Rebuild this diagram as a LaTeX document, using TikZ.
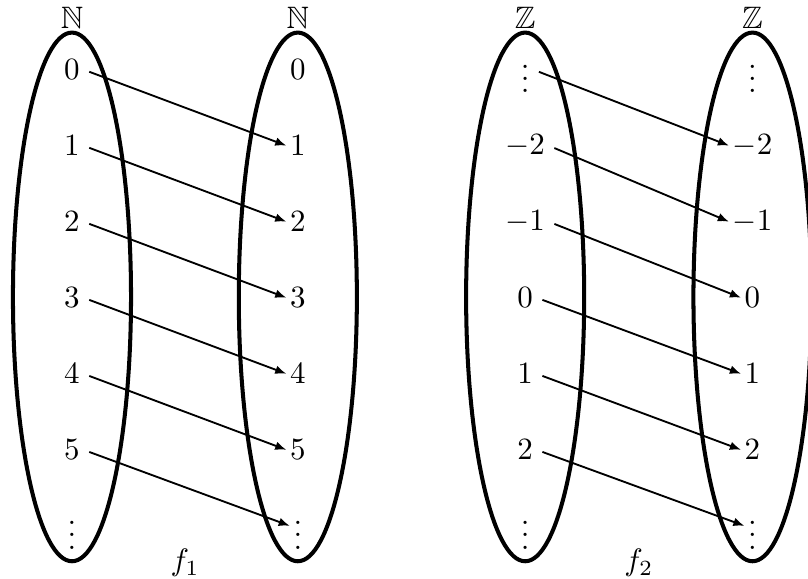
\documentclass[tikz,border=0pt]{standalone}
\usepackage{amsmath}
\usepackage{amssymb}
\usepackage{tikz}
\usetikzlibrary{shapes.geometric, arrows.meta, positioning}

\begin{document}
\begin{tikzpicture}[>={Latex[length=3.6pt, width=2.8pt]},
  node distance=0.863cm,
  setbox/.style={draw, ellipse, line width=1.3pt, inner sep=0pt,
                 minimum width=1.34cm, minimum height=6.0cm},
  elem/.style={inner sep=1pt, on grid},
  setlbl/.style={inner sep=0pt},
  map/.style={->, line width=0.6pt, shorten <=2pt}
]
  \useasboundingbox (0,0) rectangle (9.17,6.56);

  %% the four sets
  \node[setbox] (SA) at (0.817,3.19) {};
  \node[setbox] (SB) at (3.38,3.19)  {};
  \node[setbox] (SC) at (5.96,3.19)  {};
  \node[setbox] (SD) at (8.54,3.19)  {};

  \node[setlbl, above=0.6pt of SA.north] (NA) {$\mathbb{N}$};
  \node[setlbl, above=0.6pt of SB.north] (NB) {$\mathbb{N}$};
  \node[setlbl, above=0.6pt of SC.north] (ZC) {$\mathbb{Z}$};
  \node[setlbl, above=0.6pt of SD.north] (ZD) {$\mathbb{Z}$};

  %% f_1 : N -> N
  \node[elem] (A0) at (0.817,5.77) {$0$};
  \node[elem, below=of A0] (A1) {$1$};
  \node[elem, below=of A1] (A2) {$2$};
  \node[elem, below=of A2] (A3) {$3$};
  \node[elem, below=of A3] (A4) {$4$};
  \node[elem, below=of A4] (A5) {$5$};
  \node[elem, below=of A5] (A6) {$\vdots$};

  \node[elem] (B0) at (3.38,5.77) {$0$};
  \node[elem, below=of B0] (B1) {$1$};
  \node[elem, below=of B1] (B2) {$2$};
  \node[elem, below=of B2] (B3) {$3$};
  \node[elem, below=of B3] (B4) {$4$};
  \node[elem, below=of B4] (B5) {$5$};
  \node[elem, below=of B5] (B6) {$\vdots$};

  \draw[map] (A0.east) -- (B1.west);
  \draw[map] (A1.east) -- (B2.west);
  \draw[map] (A2.east) -- (B3.west);
  \draw[map] (A3.east) -- (B4.west);
  \draw[map] (A4.east) -- (B5.west);
  \draw[map] (A5.east) -- (B6.west);

  \node (F1) at (2.10,0.17) {$f_1$};

  %% f_2 : Z -> Z
  \node[elem] (C0) at (5.96,5.77) {$\vdots$};
  \node[elem, below=of C0] (C1) {$-2$};
  \node[elem, below=of C1] (C2) {$-1$};
  \node[elem, below=of C2] (C3) {$0$};
  \node[elem, below=of C3] (C4) {$1$};
  \node[elem, below=of C4] (C5) {$2$};
  \node[elem, below=of C5] (C6) {$\vdots$};

  \node[elem] (D0) at (8.54,5.77) {$\vdots$};
  \node[elem, below=of D0] (D1) {$-2$};
  \node[elem, below=of D1] (D2) {$-1$};
  \node[elem, below=of D2] (D3) {$0$};
  \node[elem, below=of D3] (D4) {$1$};
  \node[elem, below=of D4] (D5) {$2$};
  \node[elem, below=of D5] (D6) {$\vdots$};

  \draw[map] (C0.east) -- (D1.west);
  \draw[map] (C1.east) -- (D2.west);
  \draw[map] (C2.east) -- (D3.west);
  \draw[map] (C3.east) -- (D4.west);
  \draw[map] (C4.east) -- (D5.west);
  \draw[map] (C5.east) -- (D6.west);

  \node (F2) at (7.25,0.17) {$f_2$};
\end{tikzpicture}
\end{document}
